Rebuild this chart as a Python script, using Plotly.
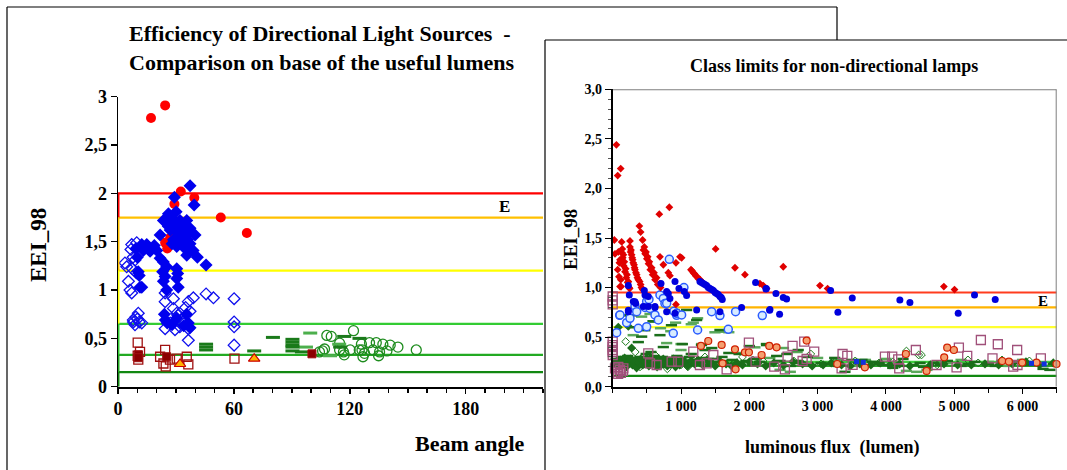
import plotly.graph_objects as go

W, H = 1067, 470

# ================= LEFT PANEL DATA (beam angle, EEI_98) =================
L_red_x = [17.1, 24.4, 32.5, 39.5, 29.2, 53.2, 66.7, 27.0, 24.4, 25.5, 14.9]
L_red_y = [2.78, 2.91, 2.02, 1.955, 1.89, 1.75, 1.59, 1.54, 1.49, 1.43, 1.45]

L_bd_x = [37.3, 39.4, 30.1, 26.1, 23.5, 25.2, 27.8, 32.1, 35.6, 29.5, 33.8, 37.3, 21.8, 30.4, 32.1,
          36.4, 39.9, 28.7, 33.0, 37.3, 30.4, 34.7, 38.9, 35.6, 41.1, 45.6, 21.8, 23.5, 25.2, 23.1,
          24.4, 30.4, 30.9, 23.5, 31.2, 30.4, 25.2, 12.3, 14.9, 16.6, 13.1, 9.3, 10.0, 10.5, 11.0,
          11.4, 12.3, 20.1, 29.2, 18.8, 27.0, 28.0, 26.0, 34.0, 31.5, 36.0, 29.0, 24.5, 25.5, 30.4,
          36.4, 37.3, 34.0, 28.0, 24.0, 35.5]
L_bd_y = [2.08, 1.88, 1.81, 1.79, 1.72, 1.71, 1.74, 1.72, 1.72, 1.67, 1.66, 1.64, 1.57, 1.60, 1.55,
          1.59, 1.57, 1.52, 1.50, 1.48, 1.45, 1.43, 1.41, 1.36, 1.34, 1.26, 1.33, 1.29, 1.24, 1.19,
          1.14, 1.22, 1.17, 1.09, 1.03, 1.12, 1.00, 1.47, 1.47, 1.40, 1.41, 1.43, 1.34, 1.19, 1.15,
          1.03, 1.03, 1.41, 1.96, 1.46, 1.62, 1.48, 1.66, 1.57, 1.63, 1.52, 1.70, 0.69, 0.66, 0.71,
          0.66, 0.61, 0.63, 0.64, 0.75, 0.75]

L_bo_x = [3.6, 4.5, 5.4, 6.2, 7.1, 8.8, 7.1, 6.7, 9.7, 9.3, 7.9, 8.8, 10.5, 11.0, 12.3, 24.4, 24.4,
          28.7, 24.4, 29.5, 28.7, 30.4, 36.4, 39.0, 36.4, 45.6, 49.4, 60.1, 60.1, 60.1, 60.1, 36.4,
          37.3, 7.4, 7.8, 9.5, 33.0, 34.0, 32.0, 35.0, 27.0, 31.0, 10.0, 8.0]
L_bo_y = [1.28, 1.24, 1.09, 1.00, 0.97, 1.31, 1.47, 1.42, 1.49, 0.72, 0.69, 0.64, 0.76, 0.67, 0.66,
          0.88, 0.97, 0.91, 0.60, 0.59, 0.81, 0.76, 0.88, 0.92, 0.48, 0.96, 0.92, 0.91, 0.67, 0.62,
          0.43, 0.60, 0.78, 1.22, 1.34, 1.18, 0.70, 0.65, 0.62, 0.82, 0.66, 0.74, 0.70, 0.67]

L_sqo_x = [10.2, 11.4, 10.5, 24.4, 21.8, 24.7, 26.9, 30.4, 35.6, 36.4, 60.3, 10.2, 23.5]
L_sqo_y = [0.455, 0.36, 0.28, 0.38, 0.31, 0.21, 0.28, 0.29, 0.31, 0.23, 0.29, 0.32, 0.24]
L_sqf_x = [10.5, 10.5, 25.2, 100.4]
L_sqf_y = [0.33, 0.30, 0.31, 0.34]
L_tri_x = [32.1, 70.5]
L_tri_y = [0.235, 0.29]
L_gd_x = [45.6, 45.6, 45.6, 70.5, 80.2, 90.3, 90.3, 90.3, 90.3, 90.3, 117.1, 125.0, 115.0, 95.2]
L_gd_y = [0.44, 0.41, 0.38, 0.37, 0.51, 0.49, 0.46, 0.43, 0.41, 0.37, 0.52, 0.50, 0.41, 0.36]
L_gr_x = [99.5, 97.3, 109.8, 114.5]
L_gr_y = [0.555, 0.41, 0.32, 0.44]
L_gc_x = [121.9, 108.1, 110.4, 114.7, 114.7, 126.0, 130.2, 133.7, 137.1, 140.9, 144.9, 154.4, 120.2,
          116.7, 117.1, 126.3, 126.8, 127.6, 132.0, 135.4, 134.9, 139.2, 105.9, 106.9, 104.3, 124.9]
L_gc_y = [0.58, 0.53, 0.52, 0.45, 0.38, 0.44, 0.455, 0.455, 0.44, 0.43, 0.41, 0.38, 0.38,
          0.36, 0.33, 0.38, 0.31, 0.345, 0.38, 0.36, 0.32, 0.37, 0.37, 0.39, 0.36, 0.38]

L_limits = [2.0, 1.75, 1.2, 0.65, 0.33, 0.15]
L_limit_colors = ["#ff0000", "#ffc000", "#ffff00", "#33cc33", "#22aa22", "#118811"]
L_xticks = [0, 60, 120, 180]
L_yticks = [0, 0.5, 1, 1.5, 2, 2.5, 3]
L_yticktext = ["0", "0,5", "1", "1,5", "2", "2,5", "3"]

# ================= RIGHT PANEL DATA (luminous flux, EEI_98) =================
R_red_x = [54, 73, 117, 24, 83, 107, 73, 92, 107, 131, 141, 156, 170, 190, 209, 229, 248, 253, 253,
           268, 277, 292, 312, 326, 351, 375, 409, 438, 390, 409, 438, 463, 487, 512, 536, 570, 604,
           643, 692, 682, 829, 692, 741, 814, 838, 926, 985, 1009, 926, 1146, 1180, 1214, 1253,
           1302, 1507, 1790, 1936, 2155, 2204, 2253, 2497, 3034, 3146, 4848, 5004, 34, 98, 118, 123,
           137, 147, 160, 180, 200, 220, 240, 262, 285, 300, 320, 340, 362, 395, 420, 450, 475, 500,
           525, 550, 585, 620, 660, 700, 1160, 1195, 1235, 1280]
R_red_y = [2.44, 2.13, 2.20, 1.48, 1.36, 1.28, 1.18, 1.11, 1.01, 1.46, 1.39, 1.33, 1.26, 1.19, 1.13,
           1.06, 0.99, 1.47, 1.41, 1.38, 1.33, 1.28, 1.23, 1.18, 1.13, 1.08, 1.03, 0.98, 1.62, 1.56,
           1.48, 1.41, 1.36, 1.31, 1.26, 1.20, 1.15, 1.10, 1.04, 1.74, 1.81, 1.31, 1.23, 1.15, 1.12,
           1.25, 1.31, 1.30, 0.83, 1.18, 1.15, 1.12, 1.09, 1.06, 1.39, 1.20, 1.13, 1.04, 1.02, 0.99,
           1.21, 1.02, 0.99, 1.01, 0.98, 1.34, 1.25, 1.08, 1.01, 1.35, 1.30, 1.22, 1.16, 1.10, 1.05,
           1.00, 1.36, 1.30, 1.25, 1.20, 1.15, 1.10, 1.06, 1.00, 1.38, 1.34, 1.29, 1.24, 1.18, 1.13,
           1.08, 1.03, 1.00, 1.17, 1.14, 1.11, 1.08]

R_blue_x = [229, 243, 302, 336, 463, 473, 521, 229, 448, 619, 707, 790, 814, 838, 912, 970, 1048,
            1082, 1277, 1326, 1375, 1424, 1473, 1521, 1570, 1604, 1887, 2092, 2248, 2297, 2243,
            2390, 2302, 2443, 2497, 2546, 3190, 3297, 3507, 4204, 4351, 5058, 5297, 5600, 326, 619,
            790, 1229, 1570, 229, 521, 912, 1300, 1350, 1400, 1450, 1500, 1545, 1590]
R_blue_y = [1.02, 0.925, 0.86, 0.84, 0.97, 0.925, 0.91, 0.77, 0.81, 0.80, 1.04, 0.96, 0.94, 0.89,
            1.06, 0.99, 0.96, 0.92, 1.06, 1.04, 1.02, 0.99, 0.97, 0.94, 0.91, 0.88, 0.80, 1.05, 0.99,
            0.77, 0.985, 0.94, 0.78, 0.73, 0.90, 0.885, 0.97, 0.75, 0.895, 0.875, 0.85, 0.74, 0.925,
            0.88, 0.858, 0.81, 0.757, 0.774, 0.757, 0.757, 0.808, 0.74, 1.05, 1.03, 1.00, 0.98, 0.95,
            0.93, 0.90]

R_lb_x = [829, 1043, 692, 741, 497, 531, 765, 897, 936, 102, 107, 58, 204, 253, 375, 497, 473, 546,
          619, 668, 790, 887, 936, 1009, 1243, 1448, 1570, 1692, 1799, 2190, 326, 351]
R_lb_y = [1.285, 1.00, 0.925, 0.89, 0.86, 0.88, 0.84, 0.76, 0.72, 0.72, 0.724, 0.545, 0.646, 0.69,
          0.589, 0.606, 0.80, 0.79, 0.724, 0.673, 0.841, 0.539, 0.74, 0.724, 0.572, 0.757, 0.717,
          0.579, 0.757, 0.717, 0.815, 0.757]

R_gdash_x = [375, 424, 560, 692, 741, 1082, 1229, 1351, 1570, 2253, 2716, 180, 270, 350, 470, 590,
             860, 900, 1020, 1150, 1300, 1450, 1600, 1700, 1850, 2000, 2100, 2250, 2400, 2550, 2700,
             2850, 3050, 3250, 3400, 3500, 3650, 3800, 3950, 4100, 4250, 4400, 4550, 4700, 4900,
             5100, 5300, 5500, 5700, 5900, 6100, 6300, 6400, 6450, 50, 80, 110, 140, 160, 190, 220,
             250, 280, 310, 340, 370, 400, 430, 460, 490, 520, 550, 580, 610, 640, 670, 700, 730,
             760, 790, 820, 850, 880, 910, 940, 970, 1000, 1040, 1080, 1120, 1160, 1200, 1250, 1300,
             1350, 1400, 1450, 1500, 1550, 1650, 1750, 1850, 1950, 2050, 2150, 2300, 2450, 2600,
             2750, 2900, 3100, 3300, 3600, 3900, 4200, 4500, 4800, 5200, 5600, 6000]
R_gdash_y = [0.45, 0.505, 0.35, 0.52, 0.40, 0.774, 0.673, 0.37, 0.572, 0.42, 0.37, 0.72, 0.72, 0.60,
             0.57, 0.66, 0.62, 0.77, 0.43, 0.33, 0.42, 0.39, 0.30, 0.34, 0.33, 0.41, 0.28, 0.43, 0.31,
             0.33, 0.26, 0.30, 0.24, 0.29, 0.15, 0.27, 0.27, 0.25, 0.22, 0.19, 0.28, 0.22, 0.20, 0.24,
             0.26, 0.21, 0.25, 0.23, 0.26, 0.24, 0.22, 0.18, 0.17, 0.23, 0.28, 0.25, 0.22, 0.30, 0.27,
             0.24, 0.31, 0.26, 0.21, 0.29, 0.25, 0.23, 0.30, 0.27, 0.20, 0.33, 0.26, 0.23, 0.29, 0.31,
             0.24, 0.27, 0.22, 0.30, 0.26, 0.20, 0.29, 0.24, 0.27, 0.21, 0.31, 0.25, 0.28, 0.23, 0.26,
             0.30, 0.22, 0.27, 0.24, 0.29, 0.21, 0.26, 0.23, 0.28, 0.25, 0.22, 0.27, 0.24, 0.26, 0.22,
             0.25, 0.23, 0.26, 0.21, 0.24, 0.22, 0.23, 0.21, 0.24, 0.23, 0.21, 0.24, 0.22, 0.23, 0.21,
             0.24]

R_grect_x = [424, 546, 619, 790, 921, 1180, 1243, 1497, 1604, 2082, 700, 1150, 300, 850, 1000, 1300,
             1700, 1400, 1900, 2300, 2500, 2700, 3000, 3300, 3700, 4000, 4300, 4450, 4600, 5100, 5500,
             6000, 1000, 1150, 1550, 2450, 2600, 3150, 3600, 4900, 5800]
R_grect_y = [0.707, 0.734, 0.656, 0.44, 0.646, 0.646, 0.69, 0.549, 0.555, 0.397, 0.59, 0.63, 0.52,
             0.56, 0.43, 0.43, 0.55, 0.28, 0.34, 0.29, 0.39, 0.35, 0.29, 0.27, 0.27, 0.28, 0.16, 0.15,
             0.17, 0.27, 0.25, 0.27, 0.37, 0.27, 0.22, 0.17, 0.15, 0.24, 0.21, 0.24, 0.21]

R_gdia_x = [82, 229, 277, 30, 60, 90, 120, 150, 175, 200, 230, 260, 290, 320, 350, 380, 410, 440, 470,
            500, 530, 560, 590, 620, 650, 680, 710, 740, 770, 800, 830, 860, 890, 920, 950, 980, 1010,
            1050, 1100, 1150, 1200, 1260, 1320, 1380, 1440, 1500, 1580, 1660, 1740, 1820, 1900, 2000,
            2120, 2240, 2360, 2500, 2640, 2780, 2920, 3080, 3200, 3350, 3480, 3620, 3780, 3920, 4060,
            4200, 4350, 4650, 4850, 5050, 5250, 5450, 5650, 5850, 6050, 6250, 6450]
R_gdia_y = [0.60, 0.61, 0.39, 0.24, 0.26, 0.21, 0.27, 0.23, 0.29, 0.20, 0.25, 0.28, 0.22, 0.26, 0.19,
            0.24, 0.28, 0.22, 0.25, 0.29, 0.21, 0.26, 0.23, 0.27, 0.20, 0.25, 0.22, 0.28, 0.24, 0.21,
            0.26, 0.23, 0.28, 0.20, 0.25, 0.22, 0.27, 0.24, 0.21, 0.26, 0.23, 0.25, 0.22, 0.27, 0.24,
            0.21, 0.25, 0.23, 0.21, 0.24, 0.22, 0.25, 0.23, 0.21, 0.24, 0.22, 0.25, 0.23, 0.21, 0.22,
            0.24, 0.22, 0.21, 0.23, 0.22, 0.24, 0.22, 0.23, 0.21, 0.22, 0.23, 0.22, 0.22, 0.23, 0.22,
            0.23, 0.25, 0.22, 0.24]

R_gdo_x = [190, 330, 620, 800, 1100, 1350, 1600, 1900, 2200, 2500, 2900, 3250, 3900, 4300, 4480, 4520,
           5200, 5700, 6100, 400, 700, 1000, 1250, 1750, 2050, 2650, 3050, 3550, 4100, 4750, 5350]
R_gdo_y = [0.455, 0.35, 0.32, 0.18, 0.20, 0.30, 0.24, 0.30, 0.26, 0.21, 0.33, 0.25, 0.24, 0.36, 0.32,
           0.32, 0.27, 0.27, 0.26, 0.20, 0.26, 0.22, 0.27, 0.22, 0.27, 0.26, 0.23, 0.26, 0.25, 0.22,
           0.24]

R_orange_x = [1292, 1399, 1595, 1790, 1936, 1994, 2180, 2292, 2399, 1609, 1799, 2839, 3287, 3692,
              4292, 4595, 4853, 4897, 4995, 5702, 5800, 5995, 6204, 6497]
R_orange_y = [0.411, 0.461, 0.421, 0.377, 0.347, 0.347, 0.32, 0.411, 0.397, 0.236, 0.175, 0.465,
              0.229, 0.195, 0.33, 0.159, 0.296, 0.394, 0.37, 0.259, 0.253, 0.243, 0.243, 0.229]

R_pink_x = [0, 0, 0, 0, 0, 0, 0, 0, 0, 82, 107, 58, 156, 34, 120, 80, 150, 521, 546, 643, 863, 960,
            1180, 1277, 1375, 1473, 1668, 1994, 2092, 2365, 2521, 2560, 2633, 2804, 2780, 2839, 2950,
            3365, 3434, 3512, 3351, 3985, 4092, 4180, 4195, 4438, 4741, 5034, 5068, 5190, 5390, 5560,
            5638, 5863, 5921, 5926, 6268]
R_pink_y = [0.455, 0.42, 0.40, 0.37, 0.35, 0.32, 0.91, 0.87, 0.83, 0.20, 0.17, 0.15, 0.185, 0.185,
            0.14, 0.13, 0.16, 0.337, 0.236, 0.219, 0.253, 0.253, 0.353, 0.219, 0.236, 0.32, 0.175,
            0.444, 0.253, 0.202, 0.175, 0.303, 0.411, 0.454, 0.259, 0.28, 0.354, 0.33, 0.31, 0.22,
            0.185, 0.303, 0.303, 0.276, 0.185, 0.37, 0.219, 0.195, 0.394, 0.31, 0.471, 0.286, 0.428,
            0.202, 0.37, 0.219, 0.286]

R_bsq_x = [3570, 3668, 6131, 6317]
R_bsq_y = [0.253, 0.246, 0.236, 0.229]

R_limits = [0.95, 0.80, 0.60, 0.25, 0.21, 0.11]
R_limit_colors = ["#ff3c1e", "#ffb400", "#ffff30", "#40d040", "#2aa02a", "#118811"]
R_xticks = [1000, 2000, 3000, 4000, 5000, 6000]
R_xticktext = ["1 000", "2 000", "3 000", "4 000", "5 000", "6 000"]
R_yticks = [0, 0.5, 1, 1.5, 2, 2.5, 3]
R_yticktext = ["0,0", "0,5", "1,0", "1,5", "2,0", "2,5", "3,0"]

SERIF = "Liberation Serif"

fig = go.Figure()


def add(x, y, xa, ya, symbol, size, color, lcolor=None, lwidth=0):
    fig.add_trace(go.Scatter(
        x=x, y=y, xaxis=xa, yaxis=ya, mode="markers", cliponaxis=False, showlegend=False,
        hoverinfo="skip",
        marker=dict(symbol=symbol, size=size, color=color,
                    line=dict(color=lcolor if lcolor else color, width=lwidth))))


# ---- left traces
add(L_gc_x, L_gc_y, "x", "y", "circle-open", 10, "#1e8c1e", lwidth=1.3)
add(L_gr_x, L_gr_y, "x", "y", "line-ew", 10, "#1e8c1e", "#4caf4c", 3)
add(L_gd_x, L_gd_y, "x", "y", "line-ew", 10, "#1a7a1a", "#1a7a1a", 3)
add(L_sqo_x, L_sqo_y, "x", "y", "square-open", 9, "#a01010", lwidth=1.3)
add(L_sqf_x, L_sqf_y, "x", "y", "square", 8, "#8b0000", "#a01010", 1)
add(L_tri_x, L_tri_y, "x", "y", "triangle-up", 10, "#ffb000", "#cc0000", 1.2)
add(L_bo_x, L_bo_y, "x", "y", "diamond-open", 9, "#1010ee", lwidth=1.3)
add(L_red_x, L_red_y, "x", "y", "circle", 10, "#ff0000")
add(L_bd_x, L_bd_y, "x", "y", "diamond", 10, "#0000ee")

# ---- right traces
add(R_grect_x, R_grect_y, "x2", "y2", "line-ew", 8, "#5aa85a", "#5aa85a", 2.5)
add(R_gdo_x, R_gdo_y, "x2", "y2", "diamond-open", 6, "#1a7a1a", lwidth=1)
add(R_gdash_x, R_gdash_y, "x2", "y2", "line-ew", 8, "#1a6e1a", "#1a6e1a", 2.5)
add(R_gdia_x, R_gdia_y, "x2", "y2", "diamond", 7, "#1a6e1a")
add(R_pink_x, R_pink_y, "x2", "y2", "square-open", 9, "#a0507a", lwidth=1.3)
add(R_orange_x, R_orange_y, "x2", "y2", "circle", 7, "#f4a070", "#d02000", 1.2)
add(R_bsq_x, R_bsq_y, "x2", "y2", "square", 5, "#1030e0")
add(R_lb_x, R_lb_y, "x2", "y2", "circle", 8, "#d8ecff", "#2a5cff", 1.5)
add(R_red_x, R_red_y, "x2", "y2", "diamond", 6, "#e00000")
add(R_blue_x, R_blue_y, "x2", "y2", "circle", 7, "#0000dd")

shapes = []
shapes.append(dict(type="rect", xref="paper", yref="paper", x0=545 / W, x1=1.0, y0=0, y1=1 - 40 / H,
                   fillcolor="white", line=dict(width=0), layer="below"))
for (x0, y0, x1, y1) in [(7, 470, 7, 7), (7, 7, 837, 7), (837, 7, 837, 40),
                         (545, 470, 545, 40), (545, 40, 1067, 40)]:
    shapes.append(dict(type="line", xref="paper", yref="paper", x0=x0 / W, x1=x1 / W,
                       y0=1 - y0 / H, y1=1 - y1 / H, line=dict(color="black", width=1.2),
                       layer="above"))

for v, c in zip(L_limits, L_limit_colors):
    shapes.append(dict(type="line", xref="x", yref="y", x0=0, x1=220, y0=v, y1=v,
                       line=dict(color=c, width=2.2), layer="below"))
seg_bounds = L_limits + [0]
for i, c in enumerate(L_limit_colors):
    shapes.append(dict(type="line", xref="x", yref="y", x0=0, x1=0, y0=seg_bounds[i + 1],
                       y1=seg_bounds[i], line=dict(color=c, width=3), layer="above"))

for v, c in zip(R_limits, R_limit_colors):
    shapes.append(dict(type="line", xref="x2", yref="y2", x0=0, x1=6500, y0=v, y1=v,
                       line=dict(color=c, width=2.2), layer="below"))
shapes.append(dict(type="line", xref="x2", yref="y2", x0=0, x1=6500, y0=3, y1=3,
                   line=dict(color="#7f7f7f", width=2)))
shapes.append(dict(type="line", xref="x2", yref="y2", x0=6500, x1=6500, y0=0, y1=3,
                   line=dict(color="#7f7f7f", width=2)))

bold = dict(family=SERIF, color="black", weight="bold")

annotations = [
    dict(text="Efficiency of Directional Light Sources\u00a0\u00a0-<br>Comparison on base of the useful lumens",
         xref="paper", yref="paper", x=127 / W, y=1 - 19 / H, xanchor="left", yanchor="top",
         align="left", showarrow=False, font=dict(size=22, **bold)),
    dict(text="Class limits for non-directional lamps", xref="paper", yref="paper",
         x=834 / W, y=1 - 66 / H, xanchor="center", yanchor="middle", showarrow=False,
         font=dict(size=18, **bold)),
    dict(text="EEI_98", xref="paper", yref="paper", x=38 / W, y=1 - 245 / H, textangle=-90,
         xanchor="center", yanchor="middle", showarrow=False, font=dict(size=23, **bold)),
    dict(text="Beam angle", xref="paper", yref="paper", x=470 / W, y=1 - 443 / H,
         xanchor="center", yanchor="middle", showarrow=False, font=dict(size=22, **bold)),
    dict(text="EEI_98", xref="paper", yref="paper", x=571 / W, y=1 - 240 / H, textangle=-90,
         xanchor="center", yanchor="middle", showarrow=False, font=dict(size=19, **bold)),
    dict(text="luminous flux\u00a0\u00a0(lumen)", xref="paper", yref="paper", x=832 / W,
         y=1 - 447 / H, xanchor="center", yanchor="middle", showarrow=False,
         font=dict(size=18, **bold)),
    dict(text="E", xref="x", yref="y", x=200, y=1.86, showarrow=False,
         font=dict(size=17, **bold)),
    dict(text="E", xref="x2", yref="y2", x=6293, y=0.86, showarrow=False,
         font=dict(size=15, **bold)),
]

fig.update_layout(
    width=W, height=H, margin=dict(l=0, r=0, t=0, b=0, autoexpand=False),
    paper_bgcolor="white", plot_bgcolor="rgba(0,0,0,0)",
    font=dict(family=SERIF, color="black", weight="bold"),
    shapes=shapes, annotations=annotations,
    xaxis=dict(domain=[118 / W, 543 / W], range=[0, 220], anchor="y", showgrid=False,
               zeroline=False, showline=True, linecolor="black", linewidth=2,
               ticks="outside", ticklen=5, tickcolor="black", tickwidth=1.5,
               tickvals=L_xticks, ticktext=[str(v) for v in L_xticks],
               tickfont=dict(size=18, **bold), automargin=False,
               minor=dict(dtick=10, tick0=0, ticks="outside", ticklen=4, tickcolor="black")),
    yaxis=dict(domain=[1 - 386.7 / H, 1 - 96.7 / H], range=[0, 3], anchor="x", showgrid=False,
               zeroline=False, showline=True, linecolor="black", linewidth=1.5,
               ticks="outside", ticklen=6, tickcolor="black", tickwidth=1.2, automargin=False,
               tickvals=L_yticks, ticktext=L_yticktext, tickfont=dict(size=18, **bold)),
    xaxis2=dict(domain=[612.7 / W, 1056.7 / W], range=[0, 6500], anchor="y2", showgrid=False,
                zeroline=False, showline=True, linecolor="black", linewidth=2,
                ticks="outside", ticklen=5, tickcolor="black", automargin=False,
                tickvals=R_xticks, ticktext=R_xticktext, tickfont=dict(size=14, **bold),
                minor=dict(dtick=500, tick0=0, ticks="outside", ticklen=4, tickcolor="black")),
    yaxis2=dict(domain=[1 - 386.7 / H, 1 - 89.3 / H], range=[0, 3], anchor="x2", showgrid=False,
                zeroline=False, showline=True, linecolor="black", linewidth=2,
                ticks="outside", ticklen=6, tickcolor="black", automargin=False,
                tickvals=R_yticks, ticktext=R_yticktext, tickfont=dict(size=14, **bold),
                minor=dict(dtick=0.1, tick0=0, ticks="outside", ticklen=3, tickcolor="#555555")),
)

fig.write_html("out.html", config={"displayModeBar": False, "staticPlot": True},
               post_script="document.body.style.margin='0';document.body.style.overflow='hidden';")
